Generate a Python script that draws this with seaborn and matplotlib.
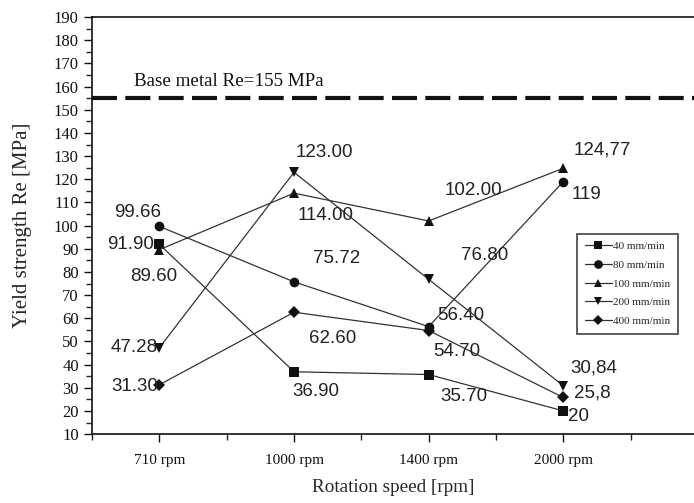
import pandas as pd
import matplotlib.pyplot as plt
import seaborn as sns
import numpy as np
from matplotlib.ticker import MultipleLocator

# Data
speeds = ['710 rpm', '1000 rpm', '1400 rpm', '2000 rpm']
feeds = ['40 mm/min', '80 mm/min', '100 mm/min', '200 mm/min', '400 mm/min']

re_40 = [91.90, 36.90, 35.70, 20.0]
re_80 = [99.66, 75.72, 56.40, 119.0]
re_100 = [89.60, 114.00, 102.00, 124.77]
re_200 = [47.28, 123.00, 76.80, 30.84]
re_400 = [31.30, 62.60, 54.70, 25.8]

lab_40 = ['91.90', '36.90', '35.70', '20']
lab_80 = ['99.66', '75.72', '56.40', '119']
lab_100 = ['89.60', '114.00', '102.00', '124,77']
lab_200 = ['47.28', '123.00', '76.80', '30,84']
lab_400 = ['31.30', '62.60', '54.70', '25,8']

base_metal = 155

# label offsets (points) for each value
off_40 = [(-21, 0), (16, -14), (25, -16), (11, -4)]
off_80 = [(-16, 10), (31, 17), (23, 8), (17, -9)]
off_100 = [(-4, -19), (23, -16), (32, 22), (28, 13)]
off_200 = [(-18, 0), (22, 14), (40, 17), (22, 13)]
off_400 = [(-18, -1), (28, -19), (20, -15), (21, 3)]

series = [re_40, re_80, re_100, re_200, re_400]
labels = [lab_40, lab_80, lab_100, lab_200, lab_400]
offsets = [off_40, off_80, off_100, off_200, off_400]
marker_list = ['s', 'o', '^', 'v', 'D']

rows = []
for feed, vals in zip(feeds, series):
    for sp, v in zip(speeds, vals):
        rows.append({'speed': sp, 'feed': feed, 're': v})
df = pd.DataFrame(rows)

sns.set_style('ticks')
plt.rcParams['font.family'] = ['Liberation Serif', 'DejaVu Serif']

fig = plt.figure(figsize=(6.94, 5.03), dpi=100)
ax = fig.add_axes([0.1326, 0.137, 0.8674, 0.829])

sns.lineplot(data=df, x='speed', y='re', hue='feed', style='feed',
             palette=['#111111'] * 5, markers=dict(zip(feeds, marker_list)),
             dashes=False, markersize=7, linewidth=0.9, markeredgewidth=0,
             ax=ax, legend=True)

for line in ax.lines:
    line.set_markerfacecolor('#111111')
    line.set_color('#333333')
    if line.get_marker() == 'D':
        line.set_markersize(6)

# base metal line
ax.axhline(base_metal, color='#111111', lw=3, dashes=(6, 2))
ax.text(-0.19, 158.5, 'Base metal Re=155 MPa', fontsize=13.7,
        ha='left', va='bottom', color='#111111')

# value labels
for vals, labs, offs in zip(series, labels, offsets):
    for i, (v, t, o) in enumerate(zip(vals, labs, offs)):
        ax.annotate(t, (i, v), xytext=o, textcoords='offset points',
                    ha='center', va='center', fontsize=13.5,
                    family=['Liberation Sans', 'DejaVu Sans'], color='#222222')

ax.set_xlim(-0.5, 3.97)
ax.set_ylim(10, 190)
ax.yaxis.set_major_locator(MultipleLocator(10))
ax.yaxis.set_minor_locator(MultipleLocator(5))
ax.xaxis.set_minor_locator(MultipleLocator(0.5))
ax.tick_params(axis='both', which='major', length=6, width=1,
               direction='out', colors='#111111')
ax.tick_params(axis='y', labelsize=12)
ax.tick_params(axis='x', labelsize=11, pad=8)
ax.tick_params(axis='both', which='minor', length=4, width=1, direction='out')

ax.spines['right'].set_visible(False)
for s in ['left', 'bottom', 'top']:
    ax.spines[s].set_linewidth(1.2)
    ax.spines[s].set_color('#111111')

ax.set_xlabel('Rotation speed [rpm]', fontsize=13.8, labelpad=9)
ax.set_ylabel('Yield strength Re [MPa]', fontsize=15, labelpad=16)
ax.grid(False)

handles, lbls = ax.get_legend_handles_labels()
leg = ax.legend(handles, lbls, loc='upper left', bbox_to_anchor=(0.797, 0.494),
                fontsize=8, frameon=True, fancybox=False, edgecolor='#111111',
                handlelength=2.4, handletextpad=0.1, labelspacing=0.8,
                borderpad=0.7, markerscale=0.9)
leg.get_frame().set_linewidth(1.2)

fig.savefig('out.png', dpi=100)
